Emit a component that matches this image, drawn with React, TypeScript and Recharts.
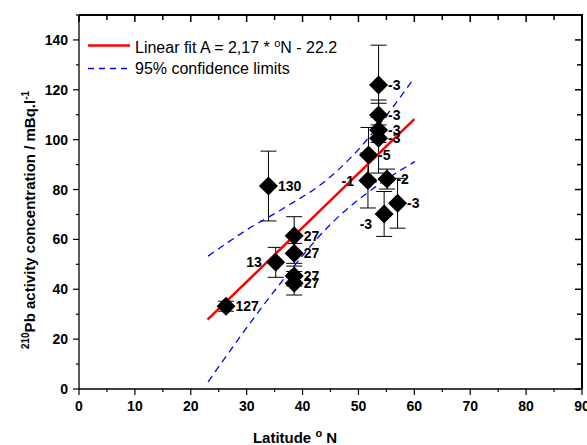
import React from 'react';
import { ComposedChart, Scatter, Line, XAxis, YAxis, ErrorBar, Legend } from 'recharts';

// ---- data ----
const latitude = [26.3, 33.9, 35.2, 38.5, 38.5, 38.5, 38.5, 53.6, 53.6, 53.6, 53.6, 51.8, 51.7, 55.1, 57.0, 54.6];
const activity = [33.2, 81.4, 50.8, 61.5, 54.4, 45.3, 42.4, 121.9, 109.9, 103.9, 100.6, 93.9, 83.6, 84.2, 74.5, 70.2];
const uncertainty = [2, 14, 6, 7.6, 4, 4, 4.7, 16, 6, 5, 14, 11, 11, 4, 10, 9];
const pointLabels = ['127', '130', '13', '27', '27', '27', '27', '-3', '-3', '-3', '-3', '-5', '-1', '-2', '-3', '-3'];

const fitLat = [23, 60];
const fitAct = [27.8, 108.2];

const upperLat = [23.1, 30, 36.6, 44.3, 48.5, 56.2, 59.8];
const upperAct = [53.3, 63.8, 72.5, 83.8, 92.5, 113.2, 124.2];
const lowerLat = [23.1, 35.1, 44.9, 54.4, 60.1];
const lowerAct = [2.9, 39.7, 65.8, 83.2, 91.2];

const xMajorTicks = [0, 10, 20, 30, 40, 50, 60, 70, 80, 90];
const xMinorTicks = [5, 15, 25, 35, 45, 55, 65, 75, 85];
const yMajorTicks = [0, 20, 40, 60, 80, 100, 120, 140];
const yMinorTicks = [10, 30, 50, 70, 90, 110, 130, 150];
const xMax = 90;
const yMax = 150;

// ---- tables built from the arrays ----
const points = latitude.map((x, i) => ({ x, y: activity[i], err: uncertainty[i], label: pointLabels[i], idx: i }));
const fitData = fitLat.map((x, i) => ({ x, y: fitAct[i] }));
const upperData = upperLat.map((x, i) => ({ x, y: upperAct[i] }));
const lowerData = lowerLat.map((x, i) => ({ x, y: lowerAct[i] }));
const frameData = [
  { x: 0, y: yMax },
  { x: xMax, y: yMax },
  { x: xMax, y: 0 },
];
const xTicks = [...xMajorTicks, ...xMinorTicks].sort((a, b) => a - b);
const yTicks = [...yMajorTicks, ...yMinorTicks].sort((a, b) => a - b);

const FONT = '"Liberation Sans", Arial, Helvetica, sans-serif';

const isMajor = (v: number, list: number[]) => list.includes(v);

const BottomTick = (p: any) => {
  const v = p.payload.value;
  const major = isMajor(v, xMajorTicks);
  return (
    <g>
      <line x1={p.x} x2={p.x} y1={p.y} y2={p.y + (major ? 6 : 3)} stroke="#000" strokeWidth={1.2} />
      {major && (
        <text x={p.x} y={p.y + 22} textAnchor="middle" fontFamily={FONT} fontWeight="bold" fontSize={14} fill="#000">
          {v}
        </text>
      )}
    </g>
  );
};

const TopTick = (p: any) => {
  const v = p.payload.value;
  const major = isMajor(v, xMajorTicks);
  return <line x1={p.x} x2={p.x} y1={p.y} y2={p.y + (major ? 7 : 5)} stroke="#000" strokeWidth={1.5} />;
};

const LeftTick = (p: any) => {
  const v = p.payload.value;
  const major = isMajor(v, yMajorTicks);
  return (
    <g>
      <line x1={p.x - (major ? 6 : 3)} x2={p.x} y1={p.y} y2={p.y} stroke="#000" strokeWidth={1.2} />
      {major && (
        <text x={p.x - 11} y={p.y + 5} textAnchor="end" fontFamily={FONT} fontWeight="bold" fontSize={14} fill="#000">
          {v}
        </text>
      )}
    </g>
  );
};

const RightTick = (p: any) => {
  const v = p.payload.value;
  const major = isMajor(v, yMajorTicks);
  return <line x1={p.x - (major ? 7 : 5)} x2={p.x} y1={p.y} y2={p.y} stroke="#000" strokeWidth={1.5} />;
};

const leftLabelled = new Set([2, 12]);
const belowLeftLabelled = new Set([15]);

const Diamond = (props: any) => {
  const { cx, cy, payload } = props;
  if (cx == null || cy == null) return null;
  const s = 9.5;
  let tx = cx + 9.5;
  let ty = cy + 5;
  let anchor: 'start' | 'end' = 'start';
  if (leftLabelled.has(payload.idx)) {
    tx = cx - 14;
    anchor = 'end';
  } else if (belowLeftLabelled.has(payload.idx)) {
    tx = cx - 12;
    ty = cy + 15;
    anchor = 'end';
  }
  return (
    <g>
      <path d={`M${cx},${cy - s}L${cx + s},${cy}L${cx},${cy + s}L${cx - s},${cy}Z`} fill="#000" />
      <text x={tx} y={ty} textAnchor={anchor} fontFamily={FONT} fontWeight="bold" fontSize={14} fill="#000">
        {payload.label}
      </text>
    </g>
  );
};

const LegendBox = () => (
  <div style={{ fontFamily: FONT, fontSize: 16, color: '#000', lineHeight: '21px', whiteSpace: 'nowrap' }}>
    <div style={{ display: 'flex', alignItems: 'center' }}>
      <svg width={44} height={21} style={{ display: 'block' }}>
        <line x1={2} x2={44} y1={10.5} y2={10.5} stroke="#ff0000" strokeWidth={2.5} />
      </svg>
      <span style={{ marginLeft: 5 }}>
        Linear fit A = 2,17 * <span style={{ fontSize: 11, verticalAlign: 6 }}>o</span>N - 22.2
      </span>
    </div>
    <div style={{ display: 'flex', alignItems: 'center' }}>
      <svg width={44} height={21} style={{ display: 'block' }}>
        <line x1={2} x2={44} y1={10.5} y2={10.5} stroke="#0000ff" strokeWidth={1.3} strokeDasharray="6 5" />
      </svg>
      <span style={{ marginLeft: 5 }}>95% confidence limits</span>
    </div>
  </div>
);

const XTitle = () => (
  <text x={295} y={443} textAnchor="middle" fontFamily={FONT} fontWeight="bold" fontSize={15} fill="#000">
    Latitude <tspan fontSize={11} dy={-6}>o</tspan>
    <tspan dy={6}> N</tspan>
  </text>
);

const YTitle = () => (
  <text transform="translate(35,220) rotate(-90)" textAnchor="middle" fontFamily={FONT} fontWeight="bold" fontSize={15} fill="#000">
    <tspan fontSize={10} dy={-6}>210</tspan>
    <tspan dy={6}>Pb activity concentration / mBq.l</tspan>
    <tspan fontSize={10} dy={-6}>-1</tspan>
  </text>
);

export default function App() {
  return (
    <div style={{ position: 'absolute', left: 0, top: 0, width: 587, height: 445, background: '#fff' }}>
      <ComposedChart width={587} height={445} margin={{ top: 0, right: 0, bottom: 0, left: 0 }}>
        <XAxis
          xAxisId="b"
          dataKey="x"
          type="number"
          domain={[0, xMax]}
          ticks={xTicks}
          interval={0}
          tickSize={0}
          tickMargin={0}
          tick={<BottomTick />}
          tickLine={false}
          height={56}
          stroke="#000"
          strokeWidth={1.3}
          label={{ content: () => <XTitle /> }}
        />
        <XAxis
          xAxisId="t"
          orientation="top"
          dataKey="x"
          type="number"
          domain={[0, xMax]}
          ticks={xTicks}
          interval={0}
          tickSize={0}
          tickMargin={0}
          tick={<TopTick />}
          tickLine={false}
          height={15}
          stroke="#000"
          strokeWidth={2}
        />
        <YAxis
          yAxisId="l"
          type="number"
          domain={[0, yMax]}
          ticks={yTicks}
          interval={0}
          tickSize={0}
          tickMargin={0}
          tick={<LeftTick />}
          tickLine={false}
          width={79}
          stroke="#000"
          strokeWidth={1.3}
          label={{ content: () => <YTitle /> }}
        />
        <YAxis
          yAxisId="r"
          orientation="right"
          type="number"
          domain={[0, yMax]}
          ticks={yTicks}
          interval={0}
          tickSize={0}
          tickMargin={0}
          tick={<RightTick />}
          tickLine={false}
          width={5}
          stroke="#000"
          strokeWidth={2}
        />
        <Legend
          layout="horizontal"
          verticalAlign="middle"
          align="center"
          content={() => <LegendBox />}
          wrapperStyle={{ left: 86, top: 33, width: 320, height: 44 }}
        />
        <Line
          xAxisId="b"
          yAxisId="l"
          data={frameData}
          dataKey="y"
          type="linear"
          stroke="#000"
          strokeWidth={2}
          dot={false}
          activeDot={false}
          isAnimationActive={false}
          legendType="none"
        />
        <Scatter
          xAxisId="b"
          yAxisId="l"
          data={points}
          dataKey="y"
          shape={<Diamond />}
          isAnimationActive={false}
        >
          <ErrorBar dataKey="err" direction="y" width={8} stroke="#000" strokeWidth={1} />
        </Scatter>
        <Line
          xAxisId="b"
          yAxisId="l"
          data={upperData}
          dataKey="y"
          type="monotone"
          stroke="#0000ff"
          strokeWidth={1.3}
          strokeDasharray="7 5"
          dot={false}
          activeDot={false}
          isAnimationActive={false}
          legendType="none"
        />
        <Line
          xAxisId="b"
          yAxisId="l"
          data={lowerData}
          dataKey="y"
          type="monotone"
          stroke="#0000ff"
          strokeWidth={1.3}
          strokeDasharray="7 5"
          dot={false}
          activeDot={false}
          isAnimationActive={false}
          legendType="none"
        />
        <Line
          xAxisId="t"
          yAxisId="r"
          data={fitData}
          dataKey="y"
          type="linear"
          stroke="#ff0000"
          strokeWidth={2.5}
          dot={false}
          activeDot={false}
          isAnimationActive={false}
        />
      </ComposedChart>
    </div>
  );
}
